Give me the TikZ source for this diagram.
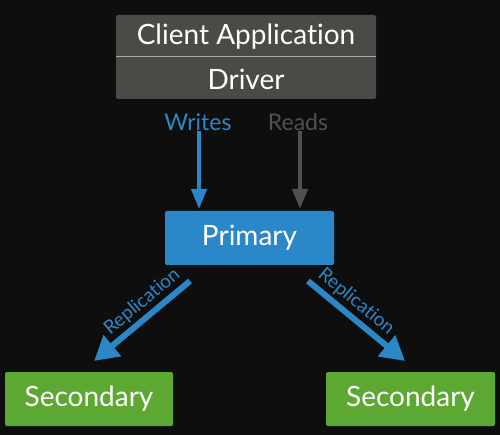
\documentclass[tikz,border=0pt]{standalone}
\usepackage{fontspec}
\setmainfont{Lato}[RawFeature=-liga]
\usetikzlibrary{arrows.meta}
\definecolor{bg}{HTML}{0E0E0E}
\definecolor{stackgray}{HTML}{4B4A47}
\definecolor{divgray}{HTML}{A8A8A8}
\definecolor{mblue}{HTML}{2B88C8}
\definecolor{rgray}{HTML}{505050}
\definecolor{mgreen}{HTML}{5DA832}
\tikzset{
  box/.style={rectangle, rounded corners=2pt, inner sep=0pt, text=white, font=\fontsize{28}{30}\selectfont},
  primbox/.style={box, fill=mblue, minimum width=169pt, minimum height=54pt},
  secbox/.style={box, fill=mgreen, minimum width=168pt, minimum height=54pt},
  stacktext/.style={inner sep=0pt, text=white, font=\fontsize{28}{30}\selectfont},
  oplabel/.style={inner sep=0pt, font=\fontsize{23}{25}\selectfont},
  warrow/.style={draw=mblue, line width=4pt, -{Triangle[width=15pt,length=20pt]}},
  rarrow/.style={draw=rgray, line width=4pt, -{Triangle[width=15pt,length=20pt]}},
  reparrow/.style={draw=mblue, line width=6pt, -{Triangle[width=26pt,length=24pt]}},
  replabel/.style={text=mblue, inner sep=0pt, font=\fontsize{19}{20}\selectfont, sloped, anchor=south, yshift=3pt},
}
\begin{document}
\begin{tikzpicture}[x=1pt,y=-1pt]
\fill[bg] (0,0) rectangle (500,435);
\useasboundingbox (0,0) rectangle (500,435);
% client stack
\node[box, fill=stackgray, minimum width=260pt, minimum height=84pt] (stack) at (246,57) {};
\draw[divgray, line width=1pt] (stack.west) -- (stack.east);
\node[stacktext] (app) at (246,37) {Client Application};
\node[stacktext] (drv) at (246,79) {Driver};
% labels
\node[oplabel, text=mblue] (writes) at (198,122) {Writes};
\node[oplabel, text=rgray] (reads) at (298,122) {Reads};
% primary / secondaries
\node[primbox] (prim) at (249.5,238) {Primary};
\node[secbox] (secl) at (89,399) {Secondary};
\node[secbox, minimum width=169pt] (secr) at (410.5,399) {Secondary};
% arrows
\coordinate (wtip) at (199,209);
\coordinate (rtip) at (300,209);
\draw[warrow] (writes.south -| wtip) -- (wtip);
\draw[rarrow] (reads.south -| rtip) -- (rtip);
\coordinate (l1) at (190,281);
\coordinate (l2) at (94,361);
\coordinate (r1) at (308,281);
\coordinate (r2) at (405,361);
\draw[reparrow] (l1) -- node[replabel, pos=0.4] {Replication} (l2);
\draw[reparrow] (r1) -- node[replabel, pos=0.4] {Replication} (r2);
\end{tikzpicture}
\end{document}
